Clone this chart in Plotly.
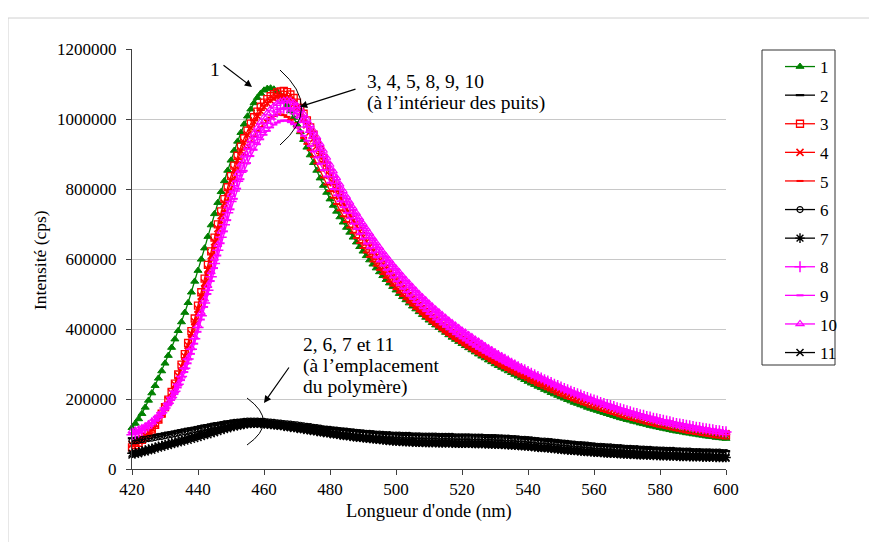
import plotly.graph_objects as go

# Wavelength axis (nm), one point per nm
wavelength = list(range(420, 601))

# Intensities in thousands of cps (420 .. 600 nm)
s1 = [118, 130, 143, 158, 176, 196, 217, 238, 259, 280,
      302, 324, 347, 371, 395, 420, 447, 475, 505, 536,
      567, 599, 631, 664, 697, 729, 761, 792, 823, 853,
      882, 910, 936, 961, 985, 1008, 1028, 1046, 1061, 1073,
      1082, 1087, 1088, 1085, 1078, 1068, 1055, 1040, 1023, 1004,
      984, 963, 941, 919, 897, 875, 853, 831, 810, 790,
      771, 753, 736, 720, 705, 690, 676, 662, 648, 635,
      622, 609, 597, 585, 574, 563, 552, 541, 531, 521,
      511, 501, 492, 483, 474, 465, 457, 449, 441, 433,
      425, 418, 411, 404, 397, 390, 383, 376, 370, 364,
      358, 352, 346, 340, 334, 328, 322, 317, 311, 306,
      300, 295, 290, 285, 280, 275, 270, 265, 260, 255,
      250, 245, 241, 236, 232, 227, 223, 218, 214, 210,
      206, 202, 198, 194, 190, 187, 183, 180, 176, 173,
      170, 167, 164, 161, 158, 155, 152, 149, 146, 144,
      141, 139, 136, 134, 131, 129, 127, 124, 122, 120,
      118, 116, 114, 112, 110, 108, 107, 105, 103, 102,
      100, 99, 97, 96, 94, 93, 92, 90, 89, 88,
      87]

s2 = [88, 89, 90, 91, 93, 94, 95, 97, 99, 100,
      102, 104, 105, 107, 109, 111, 113, 115, 116, 118,
      120, 122, 124, 125, 127, 129, 130, 132, 133, 135,
      136, 137, 138, 139, 140, 140, 140, 140, 139, 139,
      138, 137, 136, 135, 134, 133, 132, 131, 130, 129,
      128, 127, 126, 125, 124, 122, 121, 120, 119, 118,
      117, 116, 115, 114, 113, 112, 111, 110, 109, 108,
      107, 106, 106, 105, 104, 104, 103, 102, 102, 101,
      101, 100, 100, 100, 99, 99, 99, 98, 98, 98,
      98, 98, 98, 97, 97, 97, 97, 97, 97, 97,
      97, 97, 97, 97, 96, 96, 96, 96, 95, 95,
      95, 94, 94, 93, 93, 92, 91, 91, 90, 89,
      88, 87, 86, 85, 84, 84, 83, 82, 81, 80,
      79, 78, 77, 76, 75, 74, 74, 73, 72, 71,
      70, 69, 69, 68, 67, 67, 66, 65, 65, 64,
      63, 63, 62, 62, 61, 61, 60, 60, 59, 59,
      58, 58, 57, 57, 57, 56, 56, 55, 55, 55,
      54, 54, 54, 53, 53, 53, 52, 52, 52, 51,
      51]

s3 = [62, 68, 75, 83, 92, 102, 113, 126, 141, 158,
      177, 198, 220, 244, 270, 298, 328, 360, 394, 430,
      467, 505, 544, 583, 622, 661, 699, 736, 771, 805,
      837, 867, 895, 921, 945, 967, 987, 1005, 1021, 1035,
      1047, 1057, 1065, 1071, 1076, 1079, 1080, 1077, 1070, 1060,
      1047, 1032, 1015, 996, 976, 955, 933, 911, 889, 867,
      845, 824, 803, 783, 764, 746, 729, 712, 696, 680,
      665, 650, 636, 622, 609, 596, 583, 571, 559, 547,
      536, 525, 514, 504, 494, 484, 475, 466, 457, 448,
      440, 432, 424, 416, 409, 402, 395, 388, 381, 375,
      369, 363, 357, 351, 345, 339, 334, 328, 323, 317,
      312, 307, 302, 297, 292, 287, 282, 278, 273, 269,
      264, 259, 255, 250, 246, 241, 237, 233, 228, 224,
      220, 216, 212, 209, 205, 201, 198, 194, 191, 187,
      184, 181, 178, 175, 172, 169, 166, 163, 160, 157,
      154, 152, 149, 147, 144, 142, 139, 137, 135, 132,
      130, 128, 126, 124, 122, 120, 118, 116, 114, 112,
      111, 109, 108, 106, 105, 103, 102, 100, 99, 98,
      96]

s4 = [70, 75, 81, 88, 96, 105, 116, 128, 142, 158,
      176, 196, 218, 241, 266, 293, 322, 353, 386, 421,
      457, 494, 532, 571, 610, 649, 687, 724, 759, 793,
      825, 855, 883, 909, 933, 955, 975, 993, 1009, 1023,
      1035, 1045, 1053, 1059, 1063, 1065, 1064, 1060, 1053, 1043,
      1031, 1017, 1001, 983, 964, 944, 923, 902, 881, 860,
      839, 818, 798, 779, 760, 742, 725, 709, 693, 678,
      663, 649, 635, 621, 608, 595, 583, 571, 559, 548,
      537, 526, 516, 506, 496, 486, 477, 468, 459, 450,
      442, 434, 426, 418, 411, 404, 397, 390, 384, 377,
      371, 365, 359, 353, 347, 341, 336, 330, 325, 320,
      315, 310, 305, 300, 295, 290, 285, 281, 276, 272,
      267, 263, 258, 254, 249, 245, 241, 237, 233, 229,
      225, 221, 217, 213, 210, 206, 203, 199, 196, 192,
      189, 186, 183, 180, 177, 174, 171, 168, 165, 162,
      159, 157, 154, 152, 149, 147, 144, 142, 140, 137,
      135, 133, 131, 129, 127, 125, 123, 121, 119, 117,
      116, 114, 112, 111, 109, 108, 106, 105, 103, 102,
      101]

s5 = [65, 70, 76, 83, 91, 100, 110, 122, 136, 152,
      170, 190, 212, 235, 260, 287, 316, 347, 380, 414,
      449, 485, 522, 559, 596, 633, 669, 704, 737, 768,
      797, 825, 851, 875, 897, 917, 935, 951, 965, 977,
      988, 997, 1004, 1009, 1012, 1013, 1011, 1006, 998, 988,
      976, 962, 946, 929, 911, 892, 873, 853, 833, 813,
      794, 775, 757, 739, 722, 706, 690, 675, 660, 646,
      632, 619, 606, 593, 581, 569, 557, 546, 535, 524,
      514, 504, 494, 485, 476, 467, 458, 450, 442, 434,
      426, 418, 411, 404, 397, 390, 383, 377, 371, 365,
      359, 353, 347, 341, 336, 330, 325, 320, 315, 310,
      305, 300, 295, 291, 286, 282, 277, 273, 268, 264,
      260, 256, 252, 248, 244, 240, 236, 232, 228, 224,
      221, 217, 213, 210, 206, 203, 199, 196, 193, 190,
      187, 184, 181, 178, 175, 172, 169, 166, 163, 160,
      157, 155, 152, 150, 147, 145, 143, 140, 138, 136,
      134, 132, 130, 128, 126, 124, 122, 120, 118, 116,
      115, 113, 111, 110, 108, 107, 105, 104, 103, 101,
      100]

s6 = [80, 81, 82, 84, 85, 87, 88, 90, 92, 93,
      95, 97, 99, 101, 103, 105, 106, 108, 110, 112,
      114, 116, 118, 120, 122, 124, 125, 127, 129, 130,
      132, 133, 134, 135, 136, 137, 137, 137, 137, 136,
      136, 135, 134, 133, 132, 131, 130, 129, 128, 127,
      126, 125, 123, 122, 121, 119, 118, 117, 115, 114,
      113, 112, 111, 110, 109, 108, 107, 106, 105, 104,
      103, 102, 102, 101, 100, 100, 99, 98, 98, 97,
      97, 97, 96, 96, 96, 95, 95, 95, 94, 94,
      94, 94, 94, 93, 93, 93, 93, 93, 92, 92,
      92, 92, 92, 91, 91, 91, 91, 90, 90, 90,
      90, 89, 89, 88, 88, 87, 87, 86, 85, 85,
      84, 83, 82, 81, 80, 80, 79, 78, 77, 76,
      75, 74, 73, 72, 71, 70, 70, 69, 68, 67,
      66, 65, 65, 64, 63, 63, 62, 61, 61, 60,
      59, 59, 58, 58, 57, 57, 56, 56, 55, 55,
      54, 54, 53, 53, 53, 52, 52, 51, 51, 51,
      50, 50, 50, 49, 49, 49, 48, 48, 48, 47,
      47]

s7 = [45, 47, 49, 52, 54, 57, 59, 62, 65, 67,
      70, 72, 75, 77, 80, 83, 85, 88, 91, 93,
      96, 99, 101, 104, 107, 109, 112, 115, 117, 120,
      122, 124, 126, 128, 129, 130, 131, 131, 131, 130,
      130, 129, 128, 127, 126, 125, 124, 122, 121, 120,
      118, 117, 115, 114, 112, 111, 109, 108, 106, 105,
      103, 102, 100, 99, 97, 96, 95, 94, 92, 91,
      90, 89, 88, 87, 86, 85, 84, 83, 82, 81,
      80, 80, 79, 79, 78, 78, 77, 77, 77, 76,
      76, 76, 76, 75, 75, 75, 75, 75, 74, 74,
      74, 74, 74, 74, 73, 73, 73, 73, 72, 72,
      72, 71, 71, 70, 70, 69, 69, 68, 67, 67,
      66, 65, 64, 63, 62, 62, 61, 60, 59, 58,
      57, 56, 55, 54, 54, 53, 52, 51, 50, 50,
      49, 48, 48, 47, 46, 46, 45, 45, 44, 44,
      43, 43, 42, 42, 41, 41, 40, 40, 39, 39,
      38, 38, 38, 37, 37, 37, 36, 36, 36, 35,
      35, 35, 35, 34, 34, 34, 34, 33, 33, 33,
      33]

s8 = [98, 101, 105, 110, 116, 123, 131, 140, 150, 161,
      174, 188, 204, 222, 242, 264, 288, 314, 342, 372,
      404, 438, 474, 511, 549, 587, 625, 662, 698, 732,
      764, 794, 822, 848, 872, 894, 914, 932, 948, 962,
      975, 988, 1000, 1011, 1020, 1027, 1031, 1032, 1029, 1023,
      1015, 1004, 991, 977, 962, 946, 929, 911, 892, 873,
      854, 835, 816, 798, 780, 763, 747, 731, 716, 701,
      687, 673, 659, 646, 633, 620, 608, 596, 584, 572,
      561, 550, 539, 529, 519, 509, 499, 490, 481, 472,
      463, 455, 447, 439, 431, 424, 417, 410, 403, 396,
      389, 383, 376, 370, 364, 358, 352, 346, 340, 335,
      329, 324, 318, 313, 308, 302, 297, 292, 287, 283,
      278, 273, 269, 264, 260, 255, 251, 247, 242, 238,
      234, 230, 226, 222, 218, 215, 211, 207, 204, 200,
      197, 194, 190, 187, 184, 181, 178, 175, 172, 169,
      166, 163, 160, 158, 155, 153, 150, 148, 145, 143,
      141, 139, 137, 135, 132, 130, 128, 127, 125, 123,
      121, 119, 118, 116, 115, 113, 112, 110, 109, 107,
      106]

s9 = [103, 105, 108, 112, 117, 123, 130, 138, 147, 157,
      169, 182, 197, 214, 233, 254, 277, 302, 329, 358,
      392, 427, 463, 500, 537, 574, 610, 645, 679, 711,
      742, 772, 801, 828, 852, 874, 894, 912, 928, 942,
      955, 966, 976, 984, 990, 994, 996, 995, 991, 985,
      976, 965, 952, 938, 923, 907, 890, 872, 854, 836,
      818, 800, 782, 765, 748, 732, 716, 701, 686, 672,
      658, 644, 631, 618, 605, 593, 581, 569, 558, 547,
      536, 525, 515, 505, 495, 486, 477, 468, 459, 451,
      443, 435, 427, 420, 413, 406, 399, 392, 385, 379,
      373, 367, 361, 355, 349, 343, 338, 332, 327, 322,
      317, 312, 307, 302, 297, 293, 288, 284, 279, 275,
      271, 266, 262, 258, 254, 250, 246, 242, 238, 234,
      231, 227, 223, 220, 216, 213, 209, 206, 203, 200,
      196, 193, 190, 187, 184, 181, 178, 175, 172, 169,
      167, 164, 161, 159, 156, 154, 151, 149, 147, 144,
      142, 140, 138, 136, 134, 132, 130, 128, 126, 124,
      122, 121, 119, 117, 116, 114, 113, 111, 110, 108,
      107]

s10 = [108, 110, 113, 117, 122, 128, 135, 143, 152, 163,
       175, 189, 205, 223, 243, 265, 290, 317, 346, 377,
       410, 447, 485, 524, 563, 602, 641, 679, 716, 751,
       784, 815, 844, 871, 896, 919, 940, 959, 976, 991,
       1005, 1017, 1028, 1037, 1044, 1049, 1052, 1053, 1051, 1046,
       1038, 1027, 1014, 999, 983, 966, 948, 929, 910, 890,
       870, 851, 832, 813, 795, 778, 762, 746, 731, 716,
       701, 687, 673, 659, 646, 633, 620, 608, 596, 584,
       573, 562, 551, 540, 530, 520, 510, 500, 491, 482,
       473, 464, 456, 448, 440, 432, 424, 417, 410, 403,
       396, 390, 383, 377, 370, 364, 358, 351, 345, 339,
       333, 327, 322, 316, 311, 305, 300, 294, 289, 283,
       278, 273, 269, 264, 259, 255, 250, 246, 241, 237,
       232, 228, 224, 220, 216, 213, 209, 205, 201, 198,
       194, 191, 188, 184, 181, 178, 175, 171, 168, 165,
       162, 159, 157, 154, 151, 149, 146, 144, 141, 139,
       136, 134, 132, 130, 128, 126, 124, 122, 121, 119,
       117, 116, 114, 113, 111, 110, 108, 107, 106, 104,
       103]

s11 = [40, 42, 44, 47, 49, 52, 54, 57, 60, 62,
       65, 67, 70, 72, 75, 77, 80, 82, 85, 87,
       90, 93, 96, 98, 101, 104, 107, 110, 113, 115,
       118, 120, 122, 124, 126, 127, 128, 128, 128, 128,
       127, 126, 125, 124, 123, 122, 121, 119, 118, 116,
       115, 113, 112, 110, 109, 107, 106, 104, 103, 101,
       100, 98, 97, 96, 94, 93, 92, 90, 89, 88,
       87, 86, 85, 84, 83, 82, 81, 80, 79, 78,
       77, 77, 76, 76, 75, 75, 74, 74, 74, 73,
       73, 73, 73, 72, 72, 72, 72, 72, 71, 71,
       71, 71, 71, 71, 70, 70, 70, 70, 69, 69,
       69, 68, 68, 67, 67, 66, 66, 65, 64, 64,
       63, 62, 61, 60, 59, 59, 58, 57, 56, 55,
       54, 53, 52, 51, 51, 50, 49, 48, 47, 47,
       46, 45, 45, 44, 43, 43, 42, 42, 41, 41,
       40, 40, 39, 39, 38, 38, 38, 37, 37, 37,
       36, 36, 36, 35, 35, 35, 34, 34, 34, 34,
       33, 33, 33, 33, 32, 32, 32, 32, 31, 31,
       31]

series_names = ["1", "2", "3", "4", "5", "6", "7", "8", "9", "10", "11"]
series_values = [s1, s2, s3, s4, s5, s6, s7, s8, s9, s10, s11]

x_ticks = [420, 440, 460, 480, 500, 520, 540, 560, 580, 600]
y_ticks = [0, 200000, 400000, 600000, 800000, 1000000, 1200000]

GREEN, BLACK, RED, MAG = "#008000", "#000000", "#FF0000", "#FF00FF"
styles = [
    (GREEN, "triangle-up", 7, 1),
    (BLACK, "line-ew-open", 6, 2.2),
    (RED, "square-open", 7, 1.3),
    (RED, "x-thin-open", 7, 1.5),
    (RED, "line-ew-open", 5, 2),
    (BLACK, "circle-open", 6, 1.2),
    (BLACK, "asterisk-open", 8, 1.4),
    (MAG, "cross-thin-open", 8, 1.5),
    (MAG, "line-ew-open", 5, 2),
    (MAG, "triangle-up-open", 7, 1.2),
    (BLACK, "x-thin-open", 7, 1.5),
]

FONT = "Liberation Serif"

fig = go.Figure()
for name, vals, (col, sym, size, lw) in zip(series_names, series_values, styles):
    fig.add_trace(go.Scatter(
        x=wavelength, y=[v * 1000 for v in vals], name=name,
        mode="lines+markers", legendgroup=name, cliponaxis=False,
        line=dict(color=col, width=1.3),
        marker=dict(symbol=sym, size=size, color=col,
                    line=dict(color=col, width=lw)),
    ))

# page offset (body margin) and plot-area geometry in page pixels
OFF = 8
L, T, W, H = 132, 49, 594, 420
FIG_W, FIG_H = 877 - 2 * OFF, 550 - 2 * OFF


def px(xp):
    return (xp - L) / W


def py(yp):
    return (T + H - yp) / H


def dx(xp):
    return 420 + (xp - L) * 180 / W


def dy(yp):
    return (T + H - yp) * 1200000 / H


shapes = [
    # legend frame
    dict(type="rect", xref="paper", yref="paper", x0=px(762), x1=px(835),
         y0=py(365), y1=py(50), line=dict(color="#333333", width=1)),
    # outer chart frame (top and left visible)
    dict(type="line", xref="paper", yref="paper", x0=px(8), x1=px(877),
         y0=py(18), y1=py(18), line=dict(color="#d0d0d0", width=1)),
    dict(type="line", xref="paper", yref="paper", x0=px(8), x1=px(8),
         y0=py(18), y1=py(550), line=dict(color="#d0d0d0", width=1)),
    # brackets
    dict(type="path", xref="x", yref="y",
         path=f"M {dx(280)},{dy(70)} Q {dx(323)},{dy(108)} {dx(280)},{dy(145)}",
         line=dict(color="black", width=1)),
    dict(type="path", xref="x", yref="y",
         path=f"M {dx(247)},{dy(398)} Q {dx(280)},{dy(422)} {dx(247)},{dy(445)}",
         line=dict(color="black", width=1)),
]

TF = dict(family=FONT, size=19.5, color="black")


def label(xp, yp, text, anchor="left"):
    return dict(x=dx(xp), y=dy(yp), xref="x", yref="y", text=text, showarrow=False,
                xanchor=anchor, yanchor="middle", font=TF)


def arrow(tx, ty, ax, ay):
    return dict(x=dx(tx), y=dy(ty), xref="x", yref="y", text="", showarrow=True,
                ax=ax, ay=ay, arrowhead=2, arrowsize=1.2, arrowwidth=1.2,
                arrowcolor="black")


annotations = [
    label(215, 69, "1", "center"),
    arrow(252, 87, -30, -23),
    arrow(300, 106.7, 57, -18),
    arrow(264, 403, 26, -37),
    label(365, 81.7, "3, 4, 5, 8, 9, 10"),
    label(365, 103, "(à l’intérieur des puits)"),
    label(301, 344.5, "2, 6, 7 et 11"),
    label(301, 365.7, "(à l’emplacement"),
    label(301, 386.9, "du polymère)"),
    # axis titles
    dict(x=px(40), y=py(260), xref="paper", yref="paper", text="Intensité (cps)",
         textangle=-90, showarrow=False, xanchor="center", yanchor="middle",
         font=dict(family=FONT, size=17.5, color="black")),
    dict(x=px(429), y=py(511), xref="paper", yref="paper", text="Longueur d'onde (nm)",
         showarrow=False, xanchor="center", yanchor="middle",
         font=dict(family=FONT, size=18.5, color="black")),
]

fig.update_layout(
    width=FIG_W, height=FIG_H,
    margin=dict(l=L - OFF, r=FIG_W - (L - OFF) - W, t=T - OFF,
                b=FIG_H - (T - OFF) - H, pad=0),
    paper_bgcolor="white", plot_bgcolor="white",
    font=dict(family=FONT, size=17, color="black"),
    showlegend=True,
    legend=dict(x=px(780), y=1, xanchor="left", yanchor="top",
                bgcolor="rgba(0,0,0,0)", borderwidth=0,
                font=dict(family=FONT, size=17, color="black"),
                tracegroupgap=3.5, itemsizing="trace", itemwidth=30),
    shapes=shapes, annotations=annotations,
)
fig.update_xaxes(range=[420, 600], tickmode="array", tickvals=x_ticks,
                 ticktext=[str(t) for t in x_ticks],
                 showgrid=False, zeroline=False, showline=True, linecolor="#404040",
                 linewidth=1, ticks="outside", ticklen=5, tickcolor="#404040",
                 tickfont=dict(family=FONT, size=17, color="black"))
fig.update_yaxes(range=[0, 1200000], tickmode="array", tickvals=y_ticks,
                 ticktext=[str(t) for t in y_ticks],
                 showgrid=True, gridcolor="#c8c8c8", gridwidth=1, zeroline=False,
                 showline=True, linecolor="#404040", linewidth=1, ticks="outside",
                 ticklen=5, tickcolor="#404040", ticklabelstandoff=6,
                 tickfont=dict(family=FONT, size=17, color="black"))

fig.write_html("out.html")
